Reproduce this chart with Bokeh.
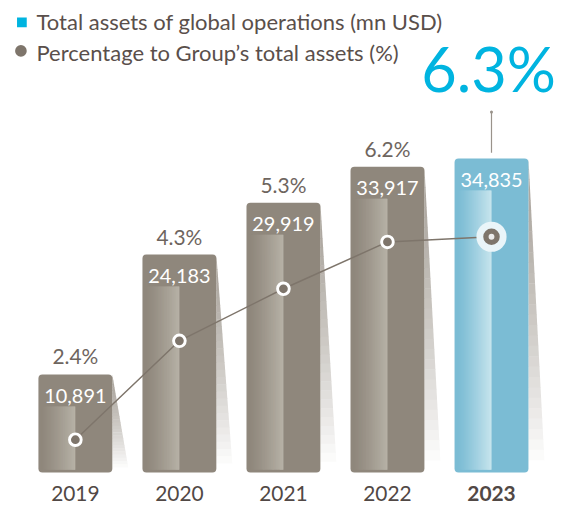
from bokeh.plotting import figure
from bokeh.models import Range1d
from bokeh.embed import file_html
from bokeh.resources import INLINE
from bokeh.core.properties import value

# ---------------- data ----------------
years = [2019, 2020, 2021, 2022, 2023]
year_labels = ["2019", "2020", "2021", "2022", "2023"]
assets = [10891, 24183, 29919, 33917, 34835]
asset_labels = ["10,891", "24,183", "29,919", "33,917", "34,835"]
pct = [2.4, 4.3, 5.3, 6.2, 6.3]
pct_labels = ["2.4%", "4.3%", "5.3%", "6.2%", "6.3%"]
legend_labels = ["Total assets of global operations (mn USD)",
                 "Percentage to Group\u2019s total assets (%)"]

# ---------------- layout helpers (reference px -> data) ----------------
W, H = 561, 506
REF_W, REF_H = 577, 522
XPX = 107.0          # ref px per year
YPX = 0.0093         # ref px per mn USD
PPX = 53.7           # ref px per percent
BASE_PX = 487        # ref y of zero
PCT0_PX = 582        # ref y of 0%
S = W / REF_W        # scale of pixel sizes


def xd(px):
    return 2019 + (px - 77) / XPX


def yd(px):
    return (BASE_PX - px) / YPX


def pd_(px):
    return (PCT0_PX - px) / PPX


def fs(px):
    return "%.1fpx" % (px * S)


DX = 1 / XPX
DY = 1 / YPX
FONT = value("Lato")
# baseline corrections (ref px) for the text renderer
C_SMALL = 6.0
C_LEG = 5.5
C_BIG = 25.0

GRAY = "#8f877c"
GRAY_L = "#b7b2a7"
BLUE = "#7bbcd4"
BLUE_L = "#c8e5ee"
CYAN = "#00b4e0"
LINE = "#7e756b"
TXT = "#5a4f4b"

p = figure(width=W, height=H, output_backend="svg", toolbar_location=None,
           x_range=Range1d(xd(0), xd(REF_W)), y_range=Range1d(yd(REF_H), yd(0)),
           x_axis_type=None, y_axis_type=None, min_border=0)
p.extra_y_ranges = {"pct": Range1d(pd_(REF_H), pd_(0))}
p.outline_line_color = None
p.grid.visible = False
p.background_fill_color = "white"
p.border_fill_color = "white"


def hexrgb(h):
    h = h.lstrip("#")
    return tuple(int(h[i:i + 2], 16) for i in (0, 2, 4))


def mix(a, b, t):
    ca, cb = hexrgb(a), hexrgb(b)
    return "#%02x%02x%02x" % tuple(int(round(ca[i] + (cb[i] - ca[i]) * t)) for i in range(3))


bw = 76 * DX
n = len(years)

# ---------------- shadows ----------------
sx, sy, sc = [], [], []
NS = 30
for i in range(n):
    right = years[i] + bw / 2
    top = assets[i]
    bot = yd(BASE_PX - 2)
    for k in range(NS):
        t0, t1 = k / NS, (k + 1) / NS
        ya = top + (bot - top) * t0
        yb = top + (bot - top) * t1 - 0.5 * DY
        xa = right + 17 * DX * t0
        xb = right + 17 * DX * t1
        sx.append([right, xa, xb, right])
        sy.append([ya, ya, yb, yb])
        sc.append(mix("#a9a39b", "#ffffff", min(1.0, (t1 ** 1.4))))
p.patches(sx, sy, fill_color=sc, line_color=None)

# ---------------- bars ----------------
bar_colors = [GRAY] * (n - 1) + [BLUE]
light_colors = [GRAY_L] * (n - 1) + [BLUE_L]
p.vbar(x=years, top=assets, bottom=0, width=bw, fill_color=bar_colors,
       line_color=None, border_radius=4)

# inner gradient
gl, gr, gt, gb, gc = [], [], [], [], []
NG = 30
for i in range(n):
    left = years[i] - bw / 2 + 3 * DX
    right = years[i]
    top = assets[i] - 33 * DY
    bot = 3 * DY
    for k in range(NG):
        t = (k + 0.5) / NG
        gl.append(left + (right - left) * k / NG)
        gr.append(left + (right - left) * (k + 1) / NG + (0.8 * DX if k < NG - 1 else 0))
        gt.append(top)
        gb.append(bot)
        gc.append(mix(bar_colors[i], light_colors[i], t ** 1.2))
p.quad(left=gl, right=gr, top=gt, bottom=gb, fill_color=gc, line_color=None)

# ---------------- labels ----------------
p.text(x=years, y=[a - (28 - C_SMALL) * DY for a in assets], text=asset_labels,
       text_font=FONT, text_font_size=fs(20.5), text_color="white",
       text_align="center", text_baseline="alphabetic")
p.text(x=years[:-1], y=[a + (13 + C_SMALL) * DY for a in assets[:-1]], text=pct_labels[:-1],
       text_font=FONT, text_font_size=fs(21.5), text_color="#6e655e",
       text_align="center", text_baseline="alphabetic")
YEAR_OFF = 28 - C_SMALL
p.text(x=years[:-1], y=[-YEAR_OFF * DY] * (n - 1), text=year_labels[:-1],
       text_font=FONT, text_font_size=fs(21.5), text_color="#514845",
       text_align="center", text_baseline="alphabetic")
p.text(x=[years[-1]], y=[-YEAR_OFF * DY], text=[year_labels[-1]],
       text_font=FONT, text_font_size=fs(21.5), text_color="#514845",
       text_font_style="bold", text_align="center", text_baseline="alphabetic")

# big highlight label
p.text(x=[years[-1] - 3 * DX], y=[assets[-1] + (68 + C_BIG) * DY], text=[pct_labels[-1]],
       text_font=FONT, text_font_size=fs(63), text_color=CYAN,
       text_align="center", text_baseline="alphabetic")
p.segment(x0=[years[-1]], x1=[years[-1]], y0=[assets[-1] + 6 * DY],
          y1=[assets[-1] + 48 * DY], line_color="#9a938b", line_width=1.2)
p.scatter(x=[years[-1]], y=[assets[-1] + 48 * DY], size=3, fill_color="#9a938b",
          line_color=None)

# ---------------- percentage line ----------------
p.line(x=years, y=pct, y_range_name="pct", line_color=LINE, line_width=1.5)
p.scatter(x=years[:-1], y=pct[:-1], y_range_name="pct", size=12 * S,
          fill_color=LINE, line_color="white", line_width=3 * S)
p.scatter(x=[years[-1]], y=[pct[-1]], y_range_name="pct", size=31 * S,
          fill_color="#eaf5f9", line_color=None)
p.scatter(x=[years[-1]], y=[pct[-1]], y_range_name="pct", size=17 * S,
          fill_color=LINE, line_color=None)
p.scatter(x=[years[-1]], y=[pct[-1]], y_range_name="pct", size=6 * S,
          fill_color="#ececec", line_color=None)

# ---------------- legend ----------------
p.scatter(x=[xd(22)], y=[yd(22.5)], marker="square", size=10 * S,
          fill_color=CYAN, line_color=None)
p.scatter(x=[xd(21)], y=[yd(52)], marker="circle", size=12 * S,
          fill_color=LINE, line_color=None)
p.text(x=[xd(37), xd(37)], y=[yd(27 - C_LEG), yd(59 - C_LEG)], text=legend_labels,
       text_font=FONT, text_font_size=fs(22.6), text_color=TXT,
       text_align="left", text_baseline="alphabetic")

open("out.html", "w").write(file_html(p, INLINE))
